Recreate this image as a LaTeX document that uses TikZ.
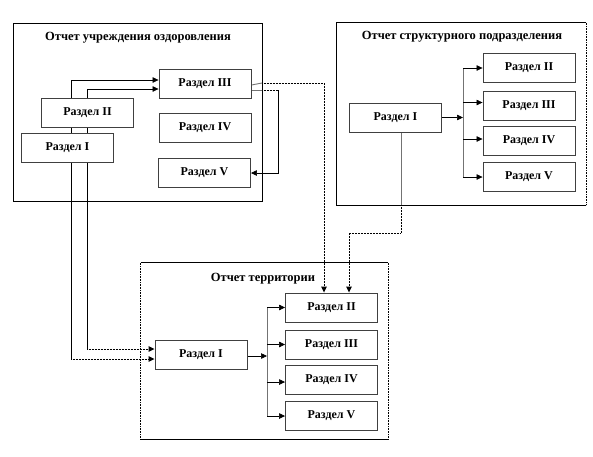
\documentclass[tikz,border=0pt]{standalone}
\usepackage{fontspec}
\setmainfont{Liberation Serif}
\usetikzlibrary{arrows.meta,backgrounds}
\begin{document}
\begin{tikzpicture}[x=1pt,y=-1pt,
  box/.style={draw=black!75, line width=0.9pt, fill=white, minimum width=92pt, minimum height=29pt, inner sep=0pt, font=\bfseries\fontsize{12}{13}\selectfont},
  cont/.style={draw=none, inner sep=0pt},
  frame/.style={draw=black, line width=0.8pt},
  dotframe/.style={draw=black, line width=0.9pt, dash pattern=on 0.8pt off 0.8pt},
  ttl/.style={font=\bfseries\fontsize{12.5}{13}\selectfont, inner sep=0pt},
  tip/.style={-{Triangle[length=6pt,width=5.5pt]}},
  ln/.style={draw=black, line width=0.6pt},
  inln/.style={draw=black!55, line width=0.9pt},
  dln/.style={draw=black, line width=1pt, dash pattern=on 0.8pt off 0.7pt},
]
\useasboundingbox (0,0) rectangle (593,456);

% containers
\node[cont, minimum width=248pt, minimum height=177pt] (L) at (138,112.5) {};
\node[cont, minimum width=249pt, minimum height=182pt] (R) at (461.5,114) {};
\node[cont, minimum width=247pt, minimum height=176pt] (T) at (264.5,351) {};
\draw[frame] (L.north west) rectangle (L.south east);
\draw[frame] (R.north east) -- (R.north west) -- (R.south west) -- (R.south east);
\draw[dotframe] (R.north east) -- (R.south east);
\draw[frame] (T.north west) -- (T.north east);
\draw[frame] (T.south west) -- (T.south east);
\draw[dotframe] (T.north west) -- (T.south west);
\draw[dotframe] (T.north east) -- (T.south east);

% titles
\node[ttl] (Lt) at (138,38) {Отчет учреждения оздоровления};
\node[ttl] (Rt) at (462,37) {Отчет структурного подразделения};
\node[ttl] (Tt) at (263,279) {Отчет территории};

% left boxes
\node[box] (LIII) at (205,84) {Раздел III};
\node[box] (LII) at (87.5,113) {Раздел II};
\node[box] (LI) at (67.5,147.5) {Раздел I};
\node[box] (LIV) at (205,128) {Раздел IV};
\node[box] (LV) at (204.5,173) {Раздел V};

% right boxes
\node[box] (RI) at (395.5,117.5) {Раздел I};
\node[box] (RII) at (529,68) {Раздел II};
\node[box] (RIII) at (529,105.5) {Раздел III};
\node[box] (RIV) at (529,141) {Раздел IV};
\node[box] (RV) at (529,177) {Раздел V};

% territory boxes
\node[box] (TI) at (201,354.5) {Раздел I};
\node[box] (TII) at (331.5,307.5) {Раздел II};
\node[box] (TIII) at (331.5,344.5) {Раздел III};
\node[box] (TIV) at (331.5,380) {Раздел IV};
\node[box] (TV) at (331.5,416) {Раздел V};

% helper coordinates
\coordinate (ax) at (71,359);
\coordinate (bx) at (87,349);
\coordinate (dx) at (278,173);
\coordinate (lex) at (262,83);
\coordinate (lex2) at (262,90);
\coordinate (ex0) at (401,205);
\coordinate (ex) at (401,233);
\coordinate (rb1) at (463,68);
\coordinate (rb4) at (463,177);
\coordinate (tb1) at (267,307.5);
\coordinate (tb4) at (267,416);

\begin{pgfonlayer}{background}
  % left: I/II up to III, and down to territory I
  \draw[ln, tip] (ax) |- ([yshift=4pt]LIII.west);
  \draw[ln, tip] (bx) |- ([yshift=-5pt]LIII.west);
  \draw[dln, tip] (ax) -- ([yshift=-4.5pt]TI.west);
  \draw[dln, tip] (bx) -- ([yshift=5.5pt]TI.west);
  % III to territory II
  \draw[inln] ([yshift=-1pt]LIII.east) -- (lex);
  \draw[dln, tip] (lex) -| ([xshift=-7.5pt]TII.north);
  % III to V
  \draw[inln] ([yshift=-6pt]LIII.east) -- (lex2);
  \draw[dln] (lex2) -- ([xshift=-2pt]dx |- lex2);
  \draw[ln, tip] ([xshift=-2pt]dx |- lex2) -| (dx) -- (LV.east);
  % right structure
  \draw[inln] ([xshift=5.5pt]RI.south) -- (ex0);
  \draw[dln, tip] (ex0) -- (ex) -| ([xshift=17.5pt]TII.north);
  \draw[ln, tip] (RI.east) -- (RI.east -| rb1);
  \draw[inln] (rb1) -- (rb4);
  \draw[ln, tip] (rb1) -- (RII.west);
  \draw[ln, tip] ([yshift=3pt]RIII.west -| rb1) -- ([yshift=3pt]RIII.west);
  \draw[ln, tip] ([yshift=2pt]RIV.west -| rb1) -- ([yshift=2pt]RIV.west);
  \draw[ln, tip] (rb4) -- (RV.west);
  % territory
  \draw[ln, tip] ([yshift=-1.5pt]TI.east) -- ([yshift=-1.5pt]TI.east -| tb1);
  \draw[inln] (tb1) -- (tb4);
  \draw[ln, tip] (tb1) -- (TII.west);
  \draw[ln, tip] (TIII.west -| tb1) -- (TIII.west);
  \draw[ln, tip] ([yshift=-2pt]TIV.west -| tb1) -- ([yshift=-2pt]TIV.west);
  \draw[ln, tip] (tb4) -- (TV.west);
\end{pgfonlayer}
\end{tikzpicture}
\end{document}
